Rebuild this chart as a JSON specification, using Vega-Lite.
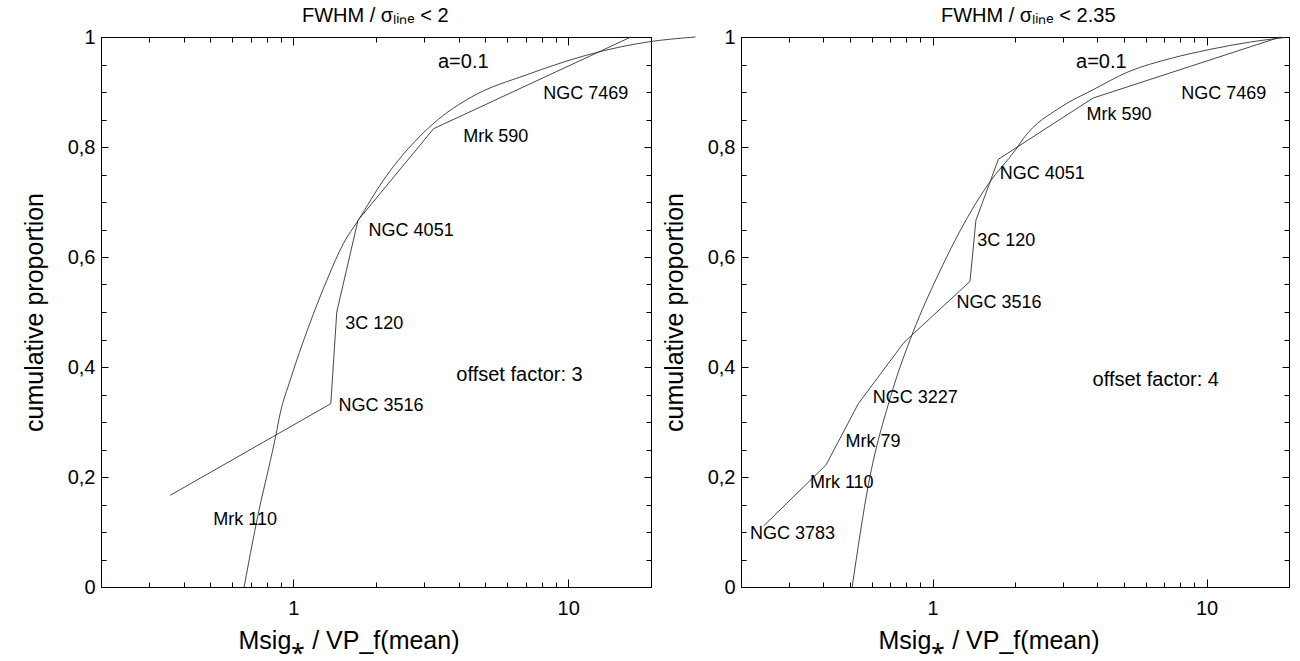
{
  "$schema": "https://vega.github.io/schema/vega-lite/v6.json",
  "padding": {"left": 22, "top": 6, "right": 5, "bottom": 4},
  "background": "white",
  "config": {
    "font": "Liberation Sans",
    "view": {"stroke": null},
    "axis": {"grid": false, "domainColor": "#000", "domainWidth": 1, "tickColor": "#000", "tickWidth": 1, "labelColor": "#000", "titleColor": "#000", "labelFont": "Liberation Sans", "titleFont": "Liberation Sans", "labelFontSize": 20, "titleFontSize": 25, "titleFontWeight": "normal"},
    "title": {"font": "Liberation Sans", "fontSize": 20, "fontWeight": "normal", "color": "#000"}
  },
  "datasets": {
    "left_ecdf": [
      {"name": "Mrk 110", "x": 0.357, "p": 0.1667},
      {"name": "NGC 3516", "x": 1.37, "p": 0.3333},
      {"name": "3C 120", "x": 1.44, "p": 0.5},
      {"name": "NGC 4051", "x": 1.72, "p": 0.6667},
      {"name": "Mrk 590", "x": 3.24, "p": 0.8333},
      {"name": "NGC 7469", "x": 16.9, "p": 1.0}
    ],
    "left_curve": [
      {"x": 0.663, "p": 0.0}, {"x": 0.765, "p": 0.158}, {"x": 0.796, "p": 0.195}, {"x": 0.865, "p": 0.276},
      {"x": 0.897, "p": 0.316}, {"x": 0.975, "p": 0.376}, {"x": 1.137, "p": 0.473}, {"x": 1.326, "p": 0.558},
      {"x": 1.524, "p": 0.625}, {"x": 1.72, "p": 0.666}, {"x": 2.13, "p": 0.74}, {"x": 3.24, "p": 0.843},
      {"x": 4.45, "p": 0.891}, {"x": 7.03, "p": 0.931}, {"x": 13.7, "p": 0.976}, {"x": 19.5, "p": 0.991},
      {"x": 29.0, "p": 1.0}
    ],
    "left_labels": [
      {"label": "NGC 7469", "x": 8.11, "y": 0.896},
      {"label": "Mrk 590", "x": 4.15, "y": 0.818},
      {"label": "NGC 4051", "x": 1.88, "y": 0.648},
      {"label": "3C 120", "x": 1.545, "y": 0.478},
      {"label": "NGC 3516", "x": 1.46, "y": 0.329},
      {"label": "Mrk 110", "x": 0.512, "y": 0.122}
    ],
    "left_notes": [
      {"label": "a=0.1", "x": 3.36, "y": 0.955},
      {"label": "offset factor: 3", "x": 3.92, "y": 0.385}
    ],
    "right_ecdf": [
      {"name": "NGC 3783", "x": 0.242, "p": 0.1111},
      {"name": "Mrk 110", "x": 0.409, "p": 0.2222},
      {"name": "Mrk 79", "x": 0.536, "p": 0.3333},
      {"name": "NGC 3227", "x": 0.786, "p": 0.4444},
      {"name": "NGC 3516", "x": 1.37, "p": 0.5556},
      {"name": "3C 120", "x": 1.44, "p": 0.6667},
      {"name": "NGC 4051", "x": 1.74, "p": 0.7778},
      {"name": "Mrk 590", "x": 3.85, "p": 0.8889},
      {"name": "NGC 7469", "x": 18.6, "p": 1.0}
    ],
    "right_curve": [
      {"x": 0.509, "p": 0.0}, {"x": 0.585, "p": 0.189}, {"x": 0.703, "p": 0.346}, {"x": 0.85, "p": 0.464},
      {"x": 1.04, "p": 0.564}, {"x": 1.265, "p": 0.649}, {"x": 1.605, "p": 0.734}, {"x": 2.01, "p": 0.795},
      {"x": 2.15, "p": 0.816}, {"x": 2.95, "p": 0.873}, {"x": 3.85, "p": 0.904}, {"x": 5.2, "p": 0.937},
      {"x": 7.4, "p": 0.961}, {"x": 10.2, "p": 0.977}, {"x": 14.5, "p": 0.991}, {"x": 19.3, "p": 0.999}
    ],
    "right_labels": [
      {"label": "NGC 7469", "x": 8.09, "y": 0.896},
      {"label": "Mrk 590", "x": 3.65, "y": 0.859},
      {"label": "NGC 4051", "x": 1.76, "y": 0.751},
      {"label": "3C 120", "x": 1.456, "y": 0.63},
      {"label": "NGC 3516", "x": 1.224, "y": 0.517},
      {"label": "NGC 3227", "x": 0.605, "y": 0.343},
      {"label": "Mrk 79", "x": 0.481, "y": 0.264},
      {"label": "Mrk 110", "x": 0.357, "y": 0.189},
      {"label": "NGC 3783", "x": 0.2155, "y": 0.0958}
    ],
    "right_notes": [
      {"label": "a=0.1", "x": 3.34, "y": 0.955},
      {"label": "offset factor: 4", "x": 3.84, "y": 0.376}
    ]
  },
  "hconcat": [
    {
      "width": 550, "height": 550,
      "title": {"text": "FWHM / σₗᵢₙₑ < 2", "anchor": "start", "frame": "group", "dx": 201, "offset": 1},
      "resolve": {"axis": {"x": "independent", "y": "independent"}},
      "layer": [
        {
          "data": {"name": "left_ecdf"},
          "mark": {"type": "line", "color": "#333", "strokeWidth": 0.9},
          "encoding": {
            "x": {"field": "x", "type": "quantitative", "scale": {"type": "log", "domain": [0.2, 20], "nice": false},
                  "axis": {"orient": "bottom", "values": [1, 10], "tickSize": -8, "labelPadding": 19, "labelExpr": "'' + datum.value", "title": "Msig⁎ / VP_f(mean)", "titleAnchor": "start", "titleX": 137, "titlePadding": 10}},
            "y": {"field": "p", "type": "quantitative", "scale": {"domain": [0, 1], "nice": false, "zero": false},
                  "axis": {"orient": "left", "values": [0, 0.2, 0.4, 0.6, 0.8, 1], "tickSize": -7, "labelPadding": 13, "labelExpr": "replace(format(datum.value, '.1~f'), '.', ',')", "title": "cumulative proportion", "titlePadding": 20}},
            "order": {"field": "p", "type": "quantitative"}
          }
        },
        {
          "data": {"name": "left_curve"},
          "mark": {"type": "line", "color": "#333", "strokeWidth": 0.9, "interpolate": "monotone"},
          "encoding": {
            "x": {"field": "x", "type": "quantitative", "scale": {"type": "log", "domain": [0.2, 20], "nice": false},
                  "axis": {"orient": "bottom", "values": [0.3, 0.4, 0.5, 0.6, 0.7, 0.8, 0.9, 2, 3, 4, 5, 6, 7, 8, 9], "tickSize": -5, "labels": false, "title": null}},
            "y": {"field": "p", "type": "quantitative", "scale": {"domain": [0, 1], "nice": false, "zero": false},
                  "axis": {"orient": "left", "values": [0.05, 0.1, 0.15, 0.25, 0.3, 0.35, 0.45, 0.5, 0.55, 0.65, 0.7, 0.75, 0.85, 0.9, 0.95], "tickSize": -5, "labels": false, "title": null}},
            "order": {"field": "x", "type": "quantitative"}
          }
        },
        {
          "data": {"name": "left_labels"},
          "mark": {"type": "text", "align": "left", "baseline": "middle", "fontSize": 18, "color": "#000"},
          "encoding": {
            "x": {"field": "x", "type": "quantitative", "scale": {"type": "log", "domain": [0.2, 20], "nice": false},
                  "axis": {"orient": "top", "values": [1, 10], "tickSize": -8, "labels": false, "title": null}},
            "y": {"field": "y", "type": "quantitative", "scale": {"domain": [0, 1], "nice": false, "zero": false},
                  "axis": {"orient": "right", "values": [0, 0.2, 0.4, 0.6, 0.8, 1], "tickSize": -7, "labels": false, "title": null}},
            "text": {"field": "label", "type": "nominal"}
          }
        },
        {
          "data": {"name": "left_notes"},
          "mark": {"type": "text", "align": "left", "baseline": "middle", "fontSize": 20, "color": "#000"},
          "encoding": {
            "x": {"field": "x", "type": "quantitative", "scale": {"type": "log", "domain": [0.2, 20], "nice": false},
                  "axis": {"orient": "top", "values": [0.3, 0.4, 0.5, 0.6, 0.7, 0.8, 0.9, 2, 3, 4, 5, 6, 7, 8, 9], "tickSize": -5, "labels": false, "title": null}},
            "y": {"field": "y", "type": "quantitative", "scale": {"domain": [0, 1], "nice": false, "zero": false},
                  "axis": {"orient": "right", "values": [0.05, 0.1, 0.15, 0.25, 0.3, 0.35, 0.45, 0.5, 0.55, 0.65, 0.7, 0.75, 0.85, 0.9, 0.95], "tickSize": -5, "labels": false, "title": null}},
            "text": {"field": "label", "type": "nominal"}
          }
        }
      ]
    },
    {
      "width": 548, "height": 550,
      "title": {"text": "FWHM / σₗᵢₙₑ < 2.35", "anchor": "start", "frame": "group", "dx": 200, "offset": 1},
      "resolve": {"axis": {"x": "independent", "y": "independent"}},
      "layer": [
        {
          "data": {"name": "right_ecdf"},
          "mark": {"type": "line", "color": "#333", "strokeWidth": 0.9},
          "encoding": {
            "x": {"field": "x", "type": "quantitative", "scale": {"type": "log", "domain": [0.2, 20], "nice": false},
                  "axis": {"orient": "bottom", "values": [1, 10], "tickSize": -8, "labelPadding": 19, "labelExpr": "'' + datum.value", "title": "Msig⁎ / VP_f(mean)", "titleAnchor": "start", "titleX": 137, "titlePadding": 10}},
            "y": {"field": "p", "type": "quantitative", "scale": {"domain": [0, 1], "nice": false, "zero": false},
                  "axis": {"orient": "left", "values": [0, 0.2, 0.4, 0.6, 0.8, 1], "tickSize": -7, "labelPadding": 13, "labelExpr": "replace(format(datum.value, '.1~f'), '.', ',')", "title": "cumulative proportion", "titlePadding": 20}},
            "order": {"field": "p", "type": "quantitative"}
          }
        },
        {
          "data": {"name": "right_curve"},
          "mark": {"type": "line", "color": "#333", "strokeWidth": 0.9, "interpolate": "monotone"},
          "encoding": {
            "x": {"field": "x", "type": "quantitative", "scale": {"type": "log", "domain": [0.2, 20], "nice": false},
                  "axis": {"orient": "bottom", "values": [0.3, 0.4, 0.5, 0.6, 0.7, 0.8, 0.9, 2, 3, 4, 5, 6, 7, 8, 9], "tickSize": -5, "labels": false, "title": null}},
            "y": {"field": "p", "type": "quantitative", "scale": {"domain": [0, 1], "nice": false, "zero": false},
                  "axis": {"orient": "left", "values": [0.05, 0.1, 0.15, 0.25, 0.3, 0.35, 0.45, 0.5, 0.55, 0.65, 0.7, 0.75, 0.85, 0.9, 0.95], "tickSize": -5, "labels": false, "title": null}},
            "order": {"field": "x", "type": "quantitative"}
          }
        },
        {
          "data": {"name": "right_labels"},
          "mark": {"type": "text", "align": "left", "baseline": "middle", "fontSize": 18, "color": "#000"},
          "encoding": {
            "x": {"field": "x", "type": "quantitative", "scale": {"type": "log", "domain": [0.2, 20], "nice": false},
                  "axis": {"orient": "top", "values": [1, 10], "tickSize": -8, "labels": false, "title": null}},
            "y": {"field": "y", "type": "quantitative", "scale": {"domain": [0, 1], "nice": false, "zero": false},
                  "axis": {"orient": "right", "values": [0, 0.2, 0.4, 0.6, 0.8, 1], "tickSize": -7, "labels": false, "title": null}},
            "text": {"field": "label", "type": "nominal"}
          }
        },
        {
          "data": {"name": "right_notes"},
          "mark": {"type": "text", "align": "left", "baseline": "middle", "fontSize": 20, "color": "#000"},
          "encoding": {
            "x": {"field": "x", "type": "quantitative", "scale": {"type": "log", "domain": [0.2, 20], "nice": false},
                  "axis": {"orient": "top", "values": [0.3, 0.4, 0.5, 0.6, 0.7, 0.8, 0.9, 2, 3, 4, 5, 6, 7, 8, 9], "tickSize": -5, "labels": false, "title": null}},
            "y": {"field": "y", "type": "quantitative", "scale": {"domain": [0, 1], "nice": false, "zero": false},
                  "axis": {"orient": "right", "values": [0.05, 0.1, 0.15, 0.25, 0.3, 0.35, 0.45, 0.5, 0.55, 0.65, 0.7, 0.75, 0.85, 0.9, 0.95], "tickSize": -5, "labels": false, "title": null}},
            "text": {"field": "label", "type": "nominal"}
          }
        }
      ]
    }
  ],
  "spacing": 90,
  "bounds": "flush"
}
